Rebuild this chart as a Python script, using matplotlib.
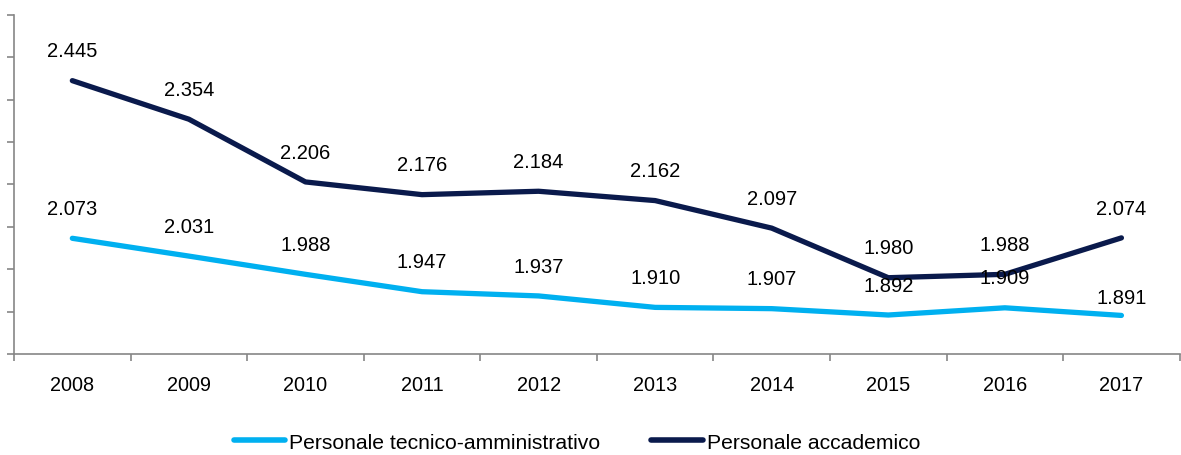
import matplotlib
matplotlib.use("Agg")
import matplotlib.pyplot as plt
from matplotlib.ticker import FixedLocator, NullFormatter
from matplotlib.lines import Line2D

years = ["2008", "2009", "2010", "2011", "2012", "2013", "2014", "2015", "2016", "2017"]
tecnico = [2.073, 2.031, 1.988, 1.947, 1.937, 1.910, 1.907, 1.892, 1.909, 1.891]
accademico = [2.445, 2.354, 2.206, 2.176, 2.184, 2.162, 2.097, 1.980, 1.988, 2.074]
names = ["Personale tecnico-amministrativo", "Personale accademico"]
colors = ["#00B0F0", "#0A1A4C"]

# label offsets above the point (points); one label sits lower in the original
default_offset = 21.5
special_offsets = {(0, 9): 13.0}

plt.rcParams['font.family'] = ['Liberation Sans', 'DejaVu Sans']

fig = plt.figure(figsize=(11.81, 4.56), dpi=100)
ax = fig.add_axes([0.0119, 0.2215, 0.987, 0.7435])

x = list(range(len(years)))
for si, (vals, c) in enumerate(zip([tecnico, accademico], colors)):
    ax.plot(x, vals, color=c, linewidth=3.8, solid_capstyle='round', solid_joinstyle='round')
    for xi, v in zip(x, vals):
        off = special_offsets.get((si, xi), default_offset)
        ax.annotate(f"{v:.3f}", (xi, v), xytext=(0, off), textcoords='offset points',
                    ha='center', va='center', fontsize=14.5, color='black')

ax.set_xlim(-0.5, len(years) - 0.5)
ax.set_ylim(1.8, 2.6)
ax.set_yticks([1.8 + 0.1 * i for i in range(9)])
ax.set_yticklabels([])
ax.tick_params(axis='y', length=5, color='#868686', width=1.2)

ax.set_xticks(x)
ax.set_xticklabels(years, fontsize=14.3)
ax.tick_params(axis='x', which='major', length=0, pad=15)
ax.xaxis.set_minor_locator(FixedLocator([i - 0.5 for i in range(len(years) + 1)]))
ax.xaxis.set_minor_formatter(NullFormatter())
ax.tick_params(axis='x', which='minor', length=5, color='#868686', width=1.2)

for s in ['top', 'right']:
    ax.spines[s].set_visible(False)
for s in ['left', 'bottom']:
    ax.spines[s].set_color('#868686')
    ax.spines[s].set_linewidth(1.2)

handles = [Line2D([0], [0], color=c, linewidth=4, solid_capstyle='round') for c in colors]
fig.legend(handles, names, loc='center', bbox_to_anchor=(0.4886, 0.0285), ncol=2, frameon=False,
           fontsize=15.2, handlelength=2.46, handletextpad=0.19, columnspacing=2.4,
           borderpad=0, borderaxespad=0)

fig.savefig("out.png", dpi=100)
